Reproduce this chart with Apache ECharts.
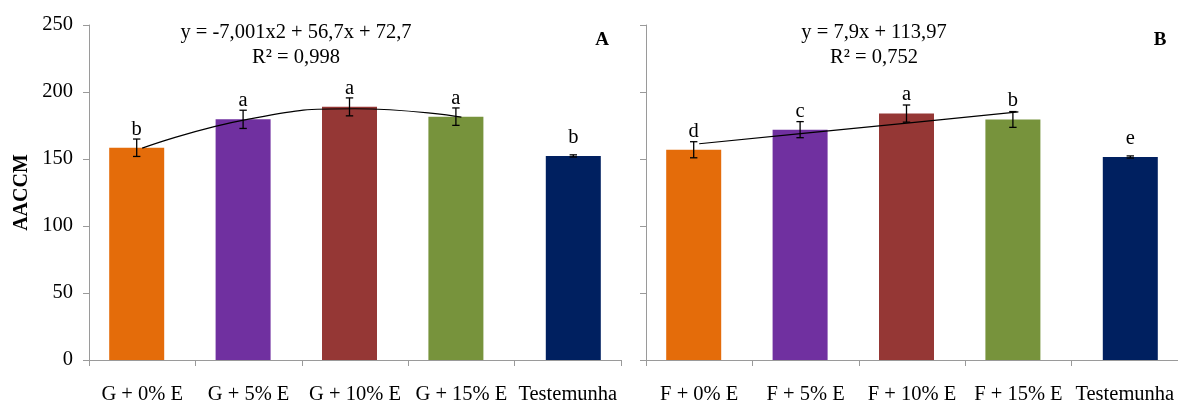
<!DOCTYPE html>
<html>
<head>
<meta charset="utf-8">
<script src="https://cdn.jsdelivr.net/npm/echarts@6/dist/echarts.min.js"></script>
<style>
html,body{margin:0;padding:0;background:#fff;}
#chart{width:1178px;height:405px;}
</style>
</head>
<body>
<div id="chart"></div>
<script>
// ---- data ----
const categoriesA = ['G + 0% E', 'G + 5% E', 'G + 10% E', 'G + 15% E', 'Testemunha'];
const categoriesB = ['F + 0% E', 'F + 5% E', 'F + 10% E', 'F + 15% E', 'Testemunha'];
const valuesA = [158.4, 179.6, 188.9, 181.6, 152.3];
const errorsA = [6.5, 6.8, 6.7, 6.5, 0.8];
const lettersA = ['b', 'a', 'a', 'a', 'b'];
const trendA = [158.1, 179.8, 187.5, 181.2];
const valuesB = [156.9, 171.9, 183.9, 179.5, 151.5];
const errorsB = [6.0, 6.0, 6.4, 5.9, 0.8];
const lettersB = ['d', 'c', 'a', 'b', 'e'];
const trendB = [161.4, 169.3, 177.2, 185.1];
const yTicks = [0, 50, 100, 150, 200, 250];
const equationA = ['y = -7,001x2 + 56,7x + 72,7', 'R² = 0,998'];
const equationB = ['y = 7,9x + 113,97', 'R² = 0,752'];
const panelTags = ['A', 'B'];

// ---- styles ----
const barColors = ['#E46C0A', '#7030A0', '#953735', '#77933C', '#002060'];
const FONT = 'Liberation Serif, Times New Roman, serif';
const BAR_W = 55;
const GAP_PX = -44;
const axisGrey = '#9a9a9a';

const chart = echarts.init(document.getElementById('chart'), null, {renderer: 'canvas'});

const grids = [
  {left: 89, top: 25, width: 532, height: 341.7},
  {left: 646, top: 25, width: 532, height: 341.7}
];

function xAxisFor(idx, cats) {
  return {
    type: 'category', gridIndex: idx, data: cats,
    axisLine: {lineStyle: {color: axisGrey, width: 1}},
    axisTick: {show: true, length: 6, lineStyle: {color: axisGrey}},
    axisLabel: {color: '#000', fontFamily: FONT, fontSize: 20.5, margin: 24, interval: 0}
  };
}
function yAxisFor(idx, showLabels) {
  const ax = {
    type: 'value', gridIndex: idx, min: yTicks[0], max: yTicks[yTicks.length - 1],
    interval: yTicks[1] - yTicks[0],
    axisLine: {show: true, lineStyle: {color: axisGrey, width: 1}},
    axisTick: {show: true, length: 6, lineStyle: {color: axisGrey}},
    splitLine: {show: false},
    axisLabel: {show: showLabels, color: '#000', fontFamily: FONT, fontSize: 20.5, margin: 16}
  };
  if (showLabels) {
    ax.name = 'AACCM';
    ax.nameLocation = 'middle';
    ax.nameRotate = 90;
    ax.nameGap = 57;
    ax.nameTextStyle = {color: '#000', fontFamily: FONT, fontSize: 20, fontWeight: 'bold'};
  }
  return ax;
}

function panelSeries(idx, values, errors, letters, trend, smooth) {
  const n = values.length;
  const treat = values.map((v, i) => i < n - 1 ? {value: v, itemStyle: {color: barColors[i]}} : null);
  const ctrl = values.map((v, i) => i === n - 1 ? {value: v, itemStyle: {color: barColors[i]}} : null);
  const lbl = {
    show: true, position: 'top', distance: 8, color: '#000', fontFamily: FONT, fontSize: 20.5,
    formatter: p => letters[p.dataIndex]
  };
  const shift = (BAR_W + GAP_PX) / 2;
  return [
    {type: 'bar', xAxisIndex: idx, yAxisIndex: idx, data: treat, barWidth: BAR_W, barGap: (GAP_PX / BAR_W * 100) + '%', label: lbl, z: 2},
    {type: 'bar', xAxisIndex: idx, yAxisIndex: idx, data: ctrl, barWidth: BAR_W, barGap: (GAP_PX / BAR_W * 100) + '%', label: lbl, z: 2},
    {
      type: 'custom', xAxisIndex: idx, yAxisIndex: idx, z: 5,
      data: values.map((v, i) => [i, v - errors[i], v + errors[i]]),
      renderItem: function (params, api) {
        const i = api.value(0);
        const lo = api.coord([i, api.value(1)]);
        const hi = api.coord([i, api.value(2)]);
        const x = lo[0] + (i < n - 1 ? -shift : shift);
        const hw = 3.7;
        const st = {stroke: '#000', lineWidth: 1.3};
        return {
          type: 'group', children: [
            {type: 'line', shape: {x1: x, y1: lo[1], x2: x, y2: hi[1]}, style: st},
            {type: 'line', shape: {x1: x - hw, y1: lo[1], x2: x + hw, y2: lo[1]}, style: st},
            {type: 'line', shape: {x1: x - hw, y1: hi[1], x2: x + hw, y2: hi[1]}, style: st}
          ]
        };
      }
    },
    {
      type: 'line', xAxisIndex: idx, yAxisIndex: idx, data: trend, smooth: smooth,
      symbol: 'none', lineStyle: {color: '#000', width: 1.2}, z: 4, silent: true
    }
  ];
}

function textEl(x, y, txt, size, bold) {
  return {
    type: 'text', x: x, y: y,
    style: {text: txt, fill: '#000', font: (bold ? 'bold ' : '') + size + 'px ' + FONT, textAlign: 'center', textVerticalAlign: 'middle'}
  };
}

const option = {
  animation: false,
  backgroundColor: '#fff',
  grid: grids,
  xAxis: [xAxisFor(0, categoriesA), xAxisFor(1, categoriesB)],
  yAxis: [yAxisFor(0, true), yAxisFor(1, false)],
  series: [].concat(
    panelSeries(0, valuesA, errorsA, lettersA, trendA, true),
    panelSeries(1, valuesB, errorsB, lettersB, trendB, false)
  ),
  graphic: [
    textEl(296, 33, equationA[0], 20.5, false),
    textEl(296, 58, equationA[1], 20.5, false),
    textEl(602, 40, panelTags[0], 19, true),
    textEl(874, 33, equationB[0], 20.5, false),
    textEl(874, 58, equationB[1], 20.5, false),
    textEl(1160, 40, panelTags[1], 19, true)
  ]
};
chart.setOption(option);
</script>
</body>
</html>
